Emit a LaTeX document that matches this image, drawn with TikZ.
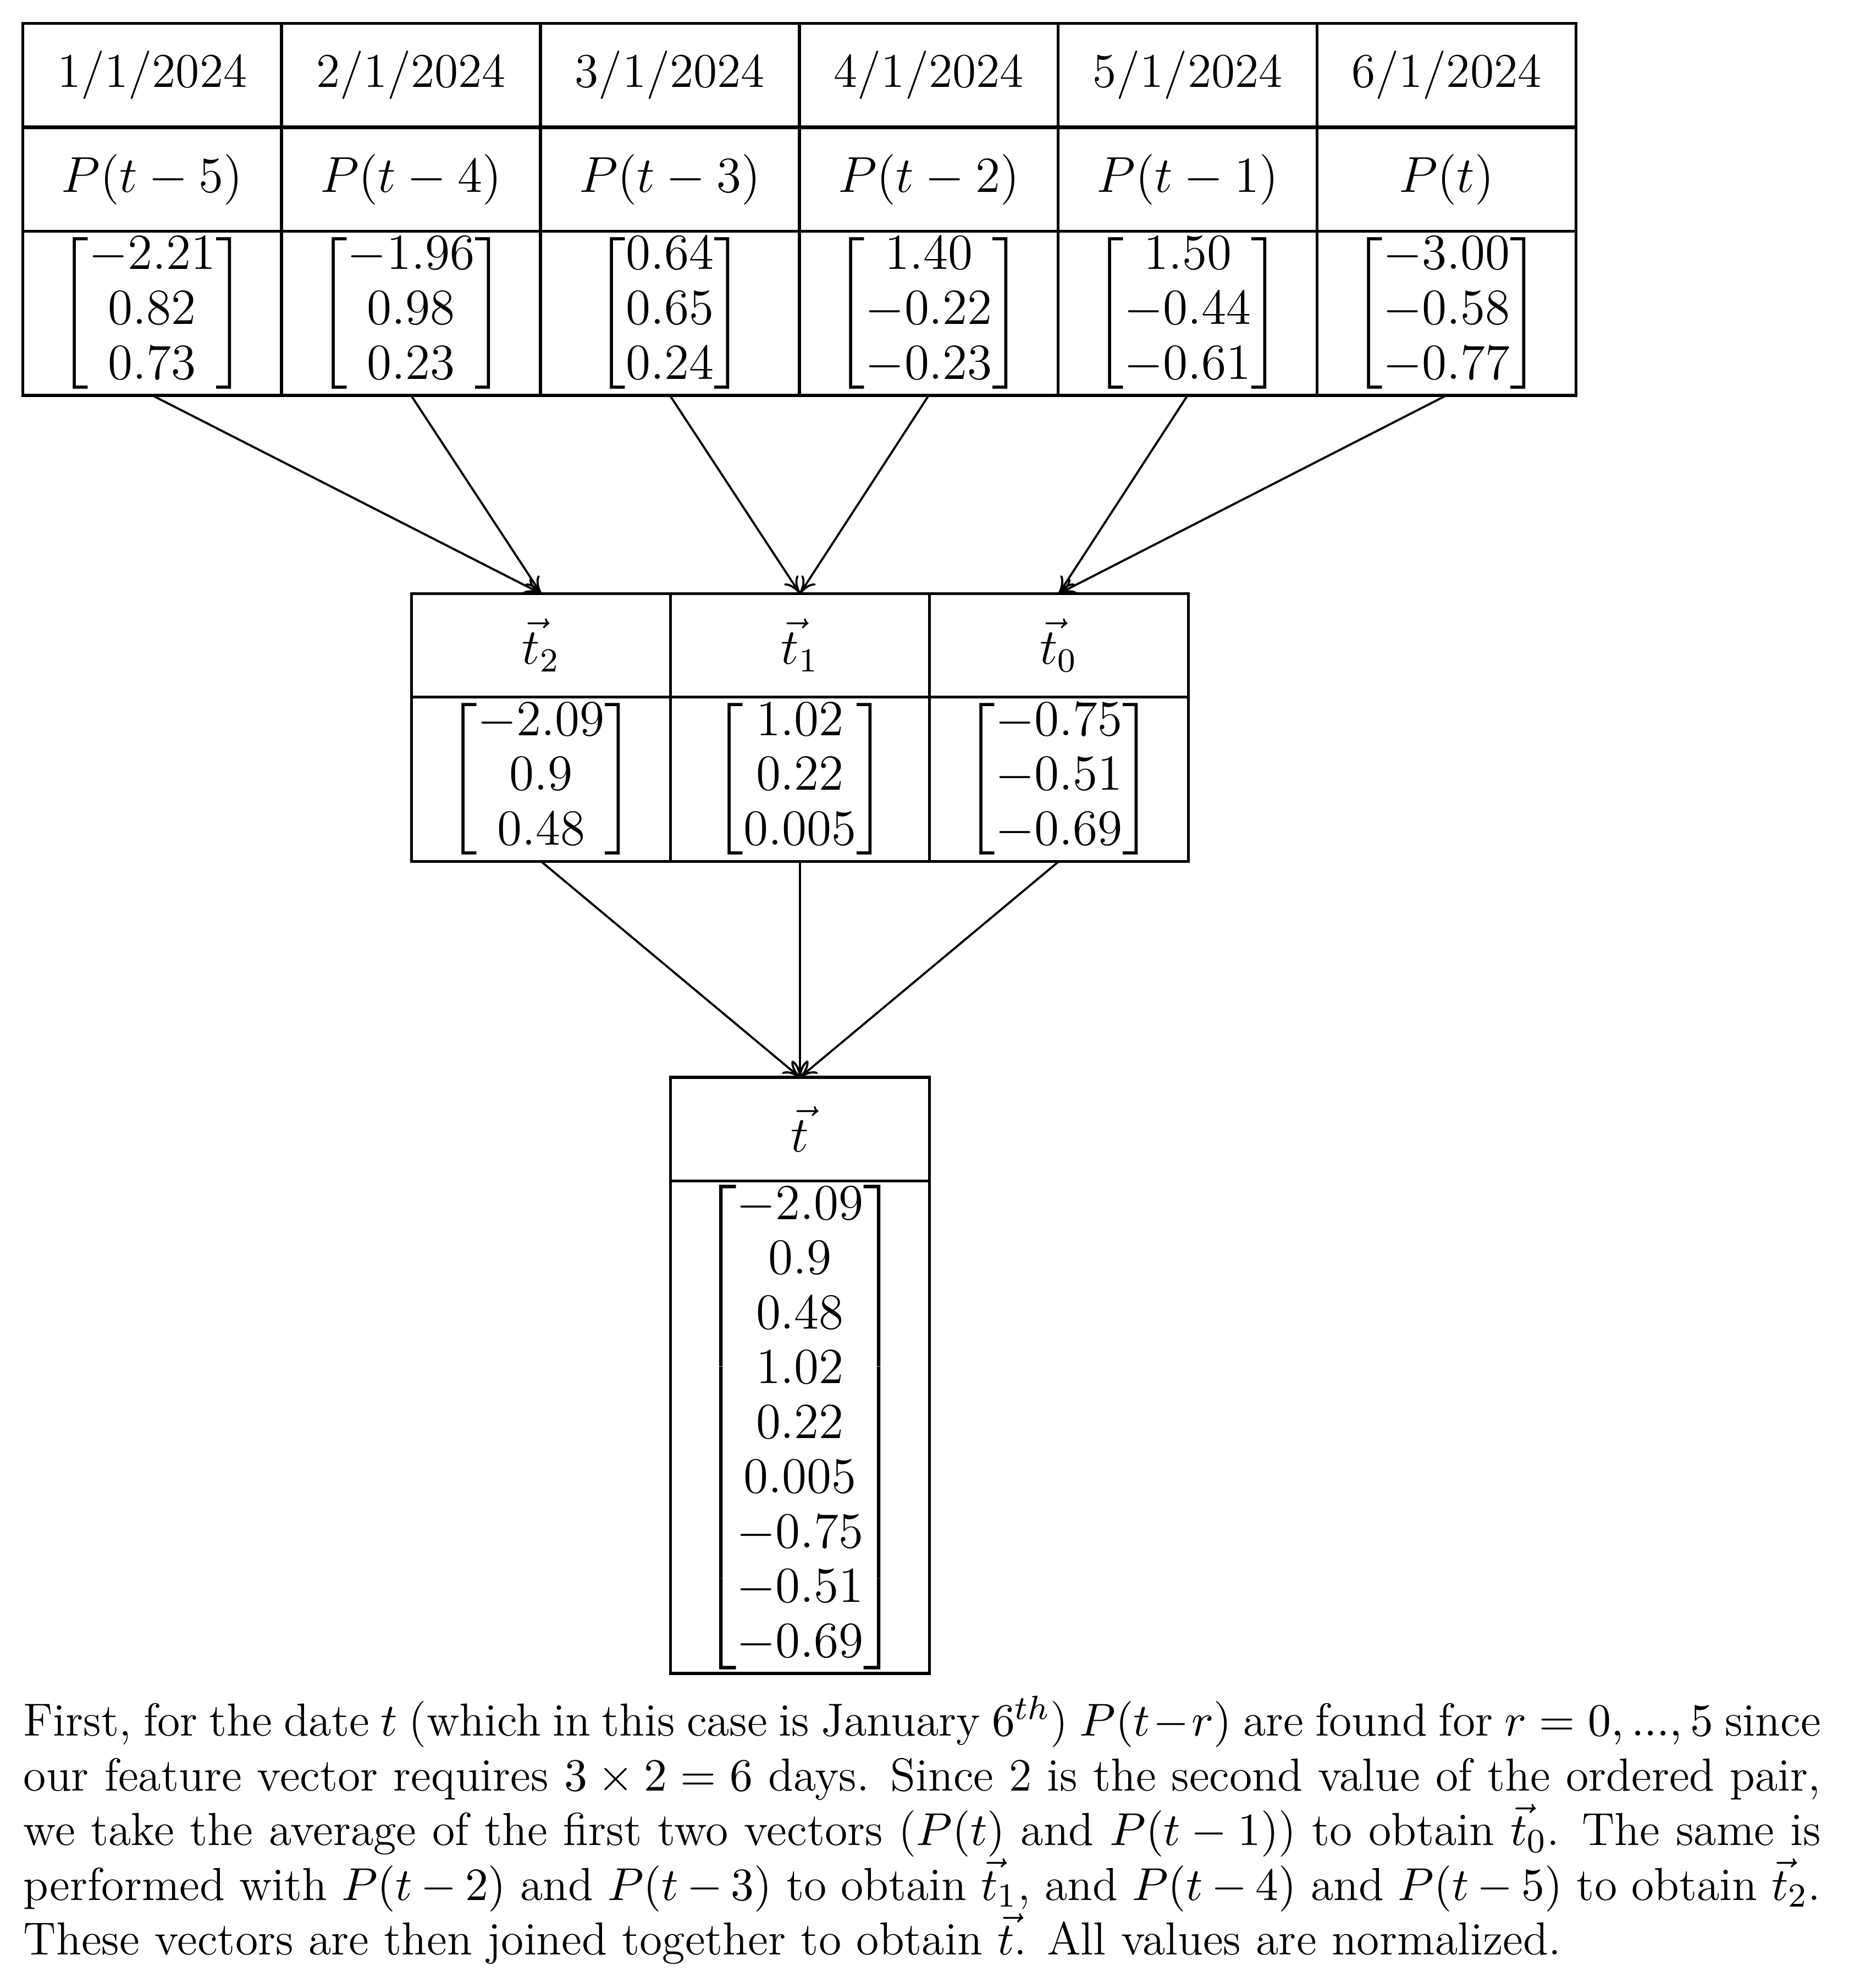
\documentclass[tikz,border=0pt]{standalone}
\usepackage{amsmath}
\usetikzlibrary{arrows.meta}
\begin{document}
\fontsize{11.5}{13}\selectfont
\begin{tikzpicture}[x=0.3pt,y=-0.3pt,
  cell/.style={draw,line width=0.7pt,inner sep=0pt,outer sep=0pt,minimum width=61.5pt},
  head/.style={cell,minimum height=24.6pt},
  vec/.style={cell,minimum height=39pt},
  arr/.style={-{To[length=4pt,width=4pt]},line width=0.5pt}]
\useasboundingbox (0,0) rectangle (1464,1574);
% top table
\foreach \i/\d/\p/\a/\b/\c in {1/1/P(t-5)/-2.21/0.82/0.73, 2/2/P(t-4)/-1.96/0.98/0.23, 3/3/P(t-3)/0.64/0.65/0.24, 4/4/P(t-2)/1.40/-0.22/-0.23, 5/5/P(t-1)/1.50/-0.44/-0.61, 6/6/P(t)/-3.00/-0.58/-0.77}{
  \node[head] (d\i) at ({18+205*(\i-0.5)},59.5) {\d/1/2024};
  \node[head] (p\i) at ({18+205*(\i-0.5)},142) {$\p$};
  \node[vec] (v\i) at ({18+205*(\i-0.5)},248) {$\begin{bmatrix}\a\\ \b\\ \c\end{bmatrix}$};
}
% middle table
\node[head] (h2) at (428.5,511) {$\vec{t}_2$};
\node[head] (h1) at (633.5,511) {$\vec{t}_1$};
\node[head] (h0) at (838.5,511) {$\vec{t}_0$};
\node[vec] (w2) at (428.5,617) {$\begin{bmatrix}-2.09\\ 0.9\\ 0.48\end{bmatrix}$};
\node[vec] (w1) at (633.5,617) {$\begin{bmatrix}1.02\\ 0.22\\ 0.005\end{bmatrix}$};
\node[vec] (w0) at (838.5,617) {$\begin{bmatrix}-0.75\\ -0.51\\ -0.69\end{bmatrix}$};
% bottom
\node[head] (th) at (633.5,894) {$\vec{t}$};
\node[cell,minimum height=117pt] (tv) at (633.5,1130) {$\begin{bmatrix}-2.09\\ 0.9\\ 0.48\\ 1.02\\ 0.22\\ 0.005\\ -0.75\\ -0.51\\ -0.69\end{bmatrix}$};
% arrows
\draw[arr] (v1.south) -- (h2.north);
\draw[arr] (v2.south) -- (h2.north);
\draw[arr] (v3.south) -- (h1.north);
\draw[arr] (v4.south) -- (h1.north);
\draw[arr] (v5.south) -- (h0.north);
\draw[arr] (v6.south) -- (h0.north);
\draw[arr] (w2.south) -- (th.north);
\draw[arr] (w1.south) -- (th.north);
\draw[arr] (w0.south) -- (th.north);
% caption
\node[anchor=north west,inner sep=0pt,text width=427pt,align=justify,font=\fontsize{11}{13}\selectfont] (cap) at (18,1342) {First, for the date $t$ (which in this case is January $6^{th}$) $P(t-r)$ are found for $r=0,...,5$ since\linebreak our feature vector requires $3\times 2=6$ days. Since 2 is the second value of the ordered pair,\linebreak we take the average of the first two vectors ($P(t)$ and $P(t-1)$) to obtain $\vec{t}_0$. The same is\linebreak performed with $P(t-2)$ and $P(t-3)$ to obtain $\vec{t}_1$, and $P(t-4)$ and $P(t-5)$ to obtain $\vec{t}_2$.\linebreak These vectors are then joined together to obtain $\vec{t}$. All values are normalized.};
\end{tikzpicture}
\end{document}
